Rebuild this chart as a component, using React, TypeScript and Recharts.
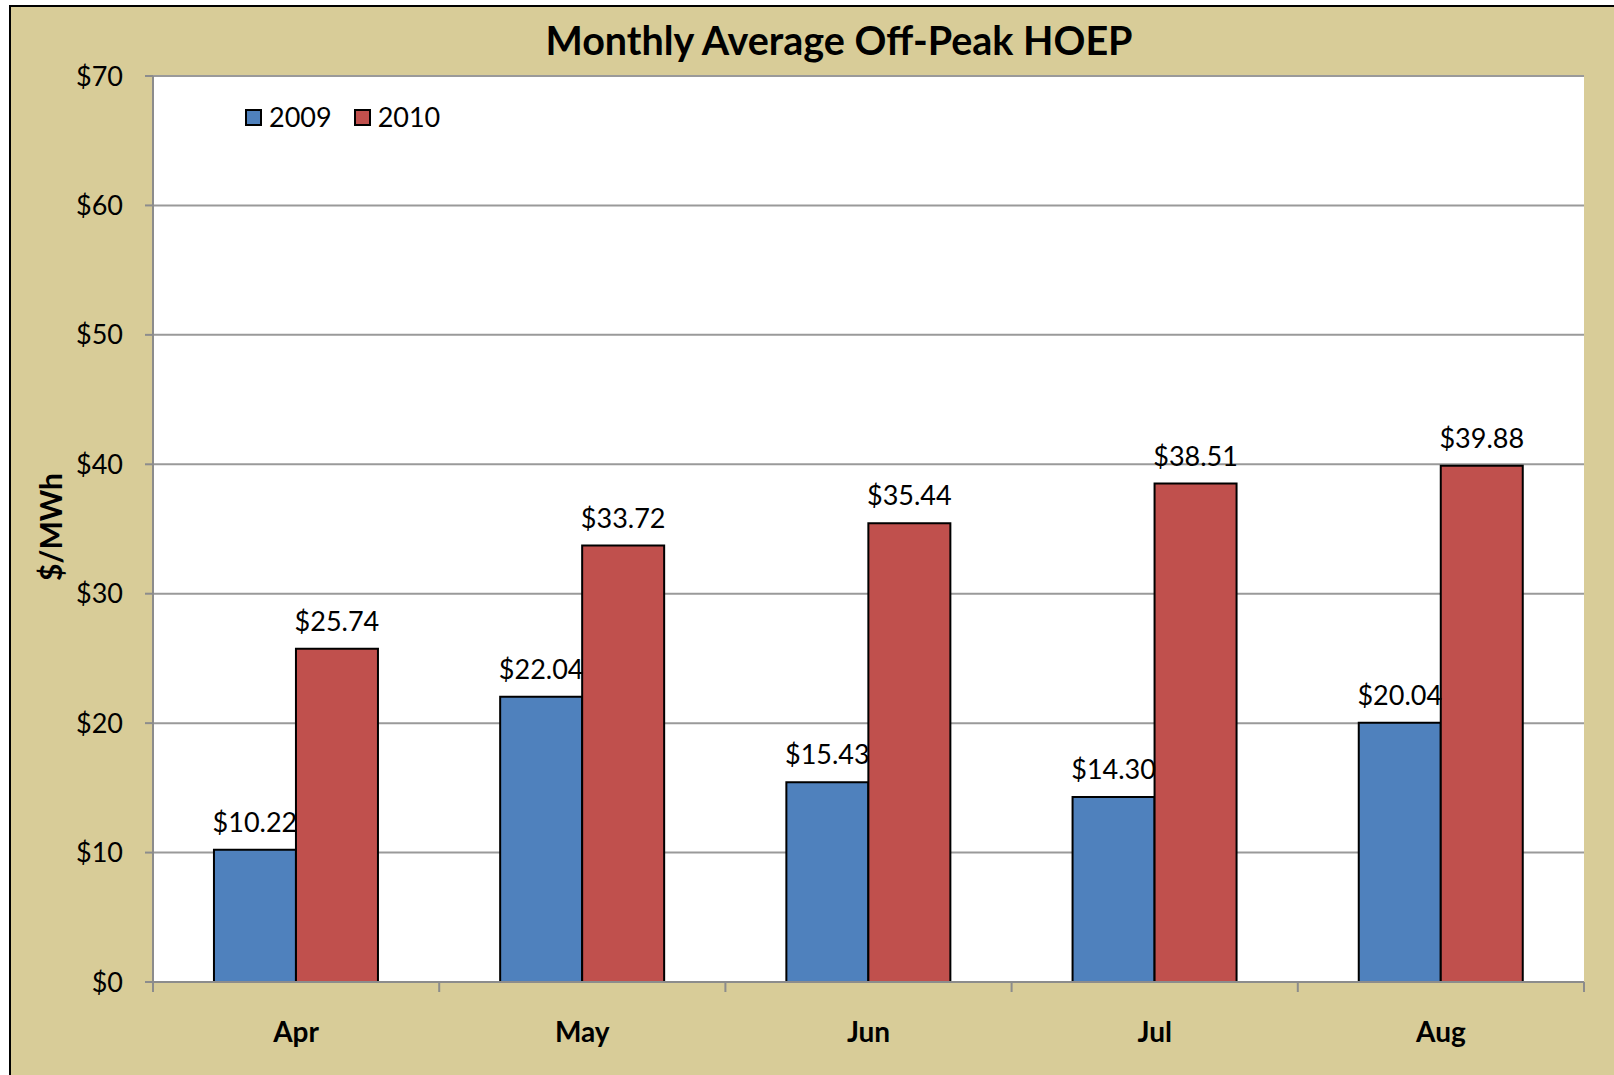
import React from 'react';
import {
  BarChart,
  Bar,
  XAxis,
  YAxis,
  CartesianGrid,
  Legend,
  LabelList,
} from 'recharts';

const months = ['Apr', 'May', 'Jun', 'Jul', 'Aug'];
const offPeak2009 = [10.22, 22.04, 15.43, 14.3, 20.04];
const offPeak2010 = [25.74, 33.72, 35.44, 38.51, 39.88];
const yTicks = [0, 10, 20, 30, 40, 50, 60, 70];

const data = months.map((month, i) => ({
  month,
  y2009: offPeak2009[i],
  y2010: offPeak2010[i],
}));

const W = 1614;
const H = 1075;
const Y_AXIS_W = 153;
const MARGIN = { top: 76, right: 30, bottom: 33, left: 0 };
const X_AXIS_H = 60;
const BAND = (W - MARGIN.left - MARGIN.right - Y_AXIS_W) / months.length;

const FONT = 'Lato, "Open Sans", sans-serif';
const TAN = '#D8CC98';
const AXIS_GRAY = '#8c8c8c';
const GRID_GRAY = '#9a9a9a';
const BLUE = '#4F81BD';
const RED = '#C0504D';

const money = (v: any) => '$' + Number(v).toFixed(2);

const MonthTick = (props: any) => {
  const { x, y, payload, index } = props;
  const half = BAND / 2;
  return (
    <g>
      <line x1={x - half} x2={x - half} y1={y} y2={y + 10} stroke={AXIS_GRAY} strokeWidth={2} />
      {index === months.length - 1 && (
        <line x1={x + half} x2={x + half} y1={y} y2={y + 10} stroke={AXIS_GRAY} strokeWidth={2} />
      )}
      <text
        x={x}
        y={y + 60}
        textAnchor="middle"
        fontFamily={FONT}
        fontWeight="bold"
        fontSize={28}
        fill="#000"
      >
        {payload.value}
      </text>
    </g>
  );
};

const LegendBox = () => {
  const items = [
    { label: '2009', color: BLUE },
    { label: '2010', color: RED },
  ];
  return (
    <div style={{ display: 'flex', alignItems: 'center', fontFamily: FONT, fontSize: 27 }}>
      {items.map((it, i) => (
        <div key={it.label} style={{ display: 'flex', alignItems: 'center', marginLeft: i ? 22 : 0 }}>
          <span
            style={{
              display: 'inline-block',
              width: 13,
              height: 13,
              background: it.color,
              border: '2px solid #000',
            }}
          />
          <span style={{ marginLeft: 7, lineHeight: '30px', color: '#000' }}>{it.label}</span>
        </div>
      ))}
    </div>
  );
};

export default function App() {
  return (
    <div style={{ position: 'absolute', left: 0, top: 0, width: W, height: H, overflow: 'hidden', background: '#fff' }}>
      <div
        style={{
          position: 'absolute',
          left: 9,
          top: 5,
          right: 0,
          bottom: 0,
          background: TAN,
          borderLeft: '2px solid #000',
          borderTop: '2px solid #000',
        }}
      />
      <div style={{ position: 'absolute', left: 0, top: 0 }}>
        <BarChart
          width={W}
          height={H}
          data={data}
          margin={MARGIN}
          barCategoryGap="21.3%"
          barGap={0}
        >
          <CartesianGrid
            xAxisId="cat"
            yAxisId="left"
            vertical={false}
            stroke={GRID_GRAY}
            strokeWidth={2}
            fill="#fff"
            fillOpacity={1}
          />
          <XAxis
            xAxisId="cat"
            dataKey="month"
            height={X_AXIS_H}
            tickSize={0}
            tickMargin={0}
            tickLine={false}
            axisLine={{ stroke: AXIS_GRAY, strokeWidth: 2 }}
            tick={<MonthTick />}
            interval={0}
          />
          <XAxis
            xAxisId="top"
            dataKey="month"
            orientation="top"
            height={0}
            tick={false}
            tickLine={false}
            axisLine={{ stroke: '#000', strokeWidth: 2 }}
          />
          <YAxis
            yAxisId="left"
            width={Y_AXIS_W}
            domain={[0, 70]}
            ticks={yTicks}
            interval={0}
            tickFormatter={(v: number) => '$' + v}
            tickSize={8}
            tickMargin={22}
            tickLine={{ stroke: AXIS_GRAY, strokeWidth: 2 }}
            axisLine={{ stroke: AXIS_GRAY, strokeWidth: 2 }}
            tick={{ fill: '#000', fontSize: 27, fontFamily: FONT }}
          />
          <YAxis
            yAxisId="right"
            orientation="right"
            width={0}
            domain={[0, 70]}
            tick={false}
            tickLine={false}
            axisLine={{ stroke: '#000', strokeWidth: 2 }}
          />
          <Legend
            verticalAlign="middle"
            align="center"
            layout="horizontal"
            content={<LegendBox />}
            wrapperStyle={{ position: 'absolute', left: 245, top: 102, width: 'auto', height: 30 }}
          />
          <Bar
            xAxisId="cat"
            yAxisId="left"
            dataKey="y2009"
            name="2009"
            fill={BLUE}
            stroke="#000"
            strokeWidth={2}
            isAnimationActive={false}
          >
            <LabelList
              dataKey="y2009"
              position="top"
              offset={18}
              formatter={money}
              fill="#000"
              fontSize={27}
              fontFamily={FONT}
            />
          </Bar>
          <Bar
            xAxisId="cat"
            yAxisId="left"
            dataKey="y2010"
            name="2010"
            fill={RED}
            stroke="#000"
            strokeWidth={2}
            isAnimationActive={false}
          >
            <LabelList
              dataKey="y2010"
              position="top"
              offset={18}
              formatter={money}
              fill="#000"
              fontSize={27}
              fontFamily={FONT}
            />
          </Bar>
        </BarChart>
      </div>
      <svg
        width={W}
        height={H}
        style={{ position: 'absolute', left: 0, top: 0, pointerEvents: 'none' }}
      >
        <text
          x={839}
          y={55}
          textAnchor="middle"
          fontFamily={FONT}
          fontWeight="bold"
          fontSize={39.5}
          fill="#000"
        >
          Monthly Average Off-Peak HOEP
        </text>
        <text
          transform="translate(62,527) rotate(-90)"
          textAnchor="middle"
          fontFamily={FONT}
          fontWeight="bold"
          fontSize={30}
          fill="#000"
        >
          $/MWh
        </text>
      </svg>
    </div>
  );
}
